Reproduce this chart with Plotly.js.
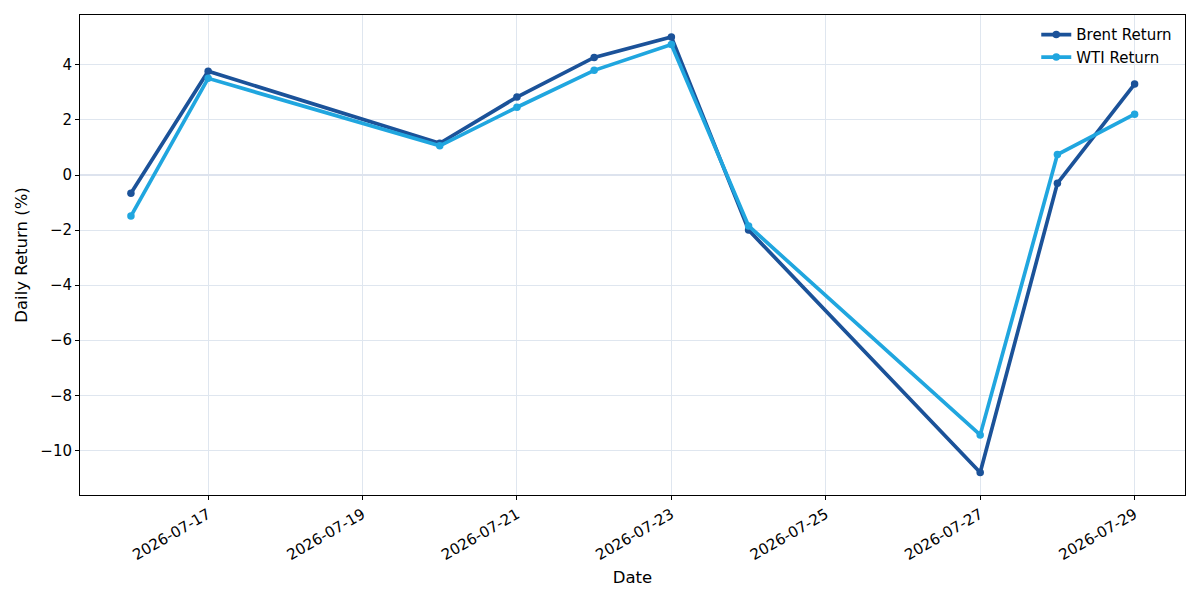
<!DOCTYPE html>
<html>
<head>
<meta charset="utf-8">
<script src="https://cdn.plot.ly/plotly-3.0.1.min.js"></script>
<style>html,body{margin:0;padding:0;background:#fff}#chart{width:1200px;height:600px}</style>
</head>
<body>
<div id="chart"></div>
<script>
const dates = ["2026-07-16","2026-07-17","2026-07-20","2026-07-21","2026-07-22","2026-07-23","2026-07-24","2026-07-27","2026-07-28","2026-07-29"];
const brentReturn = [-0.66, 3.77, 1.15, 2.83, 4.27, 5.01, -2.0, -10.8, -0.30, 3.30];
const wtiReturn = [-1.49, 3.51, 1.06, 2.46, 3.80, 4.74, -1.85, -9.44, 0.74, 2.21];
const seriesNames = ["Brent Return", "WTI Return"];
const yTicks = [-10, -8, -6, -4, -2, 0, 2, 4];

const font = "DejaVu Sans, sans-serif";
const traces = [
  {x: dates, y: brentReturn, name: seriesNames[0], mode: "lines+markers",
   line: {color: "#1b5299", width: 3.7}, marker: {color: "#1b5299", size: 7.5}},
  {x: dates, y: wtiReturn, name: seriesNames[1], mode: "lines+markers",
   line: {color: "#20a6df", width: 3.7}, marker: {color: "#20a6df", size: 7.5}}
];
const layout = {
  width: 1200, height: 600,
  margin: {l: 80, r: 15, t: 15, b: 105},
  paper_bgcolor: "#fff", plot_bgcolor: "#fff",
  font: {family: font, size: 15, color: "#000"},
  showlegend: true,
  legend: {x: 0.993, xanchor: "right", y: 0.993, yanchor: "top", bgcolor: "rgba(255,255,255,0)",
           font: {family: font, size: 15}, tracegroupgap: 0},
  xaxis: {
    type: "date",
    range: ["2026-07-15T08:10", "2026-07-29T15:40"],
    tick0: "2026-07-17", dtick: 2*86400000, tickformat: "%Y-%m-%d",
    tickangle: -30,
    showgrid: true, gridcolor: "#dfe6ef", gridwidth: 1,
    showline: true, linecolor: "#000", linewidth: 1, mirror: true,
    ticks: "outside", ticklen: 4, tickcolor: "#000",
    zeroline: false,
    title: {text: "Date", font: {family: font, size: 16.5}, standoff: 8},
    tickfont: {family: font, size: 15}
  },
  yaxis: {
    range: [-11.62, 5.81],
    tickvals: yTicks,
    showgrid: true, gridcolor: "#dfe6ef", gridwidth: 1,
    zeroline: true, zerolinecolor: "#dde3ee", zerolinewidth: 2,
    showline: true, linecolor: "#000", linewidth: 1, mirror: true,
    ticks: "outside", ticklen: 4, tickcolor: "#000",
    title: {text: "Daily Return (%)", font: {family: font, size: 16.5}, standoff: 8},
    tickfont: {family: font, size: 15}
  }
};
Plotly.newPlot("chart", traces, layout, {staticPlot: true});
</script>
</body>
</html>
